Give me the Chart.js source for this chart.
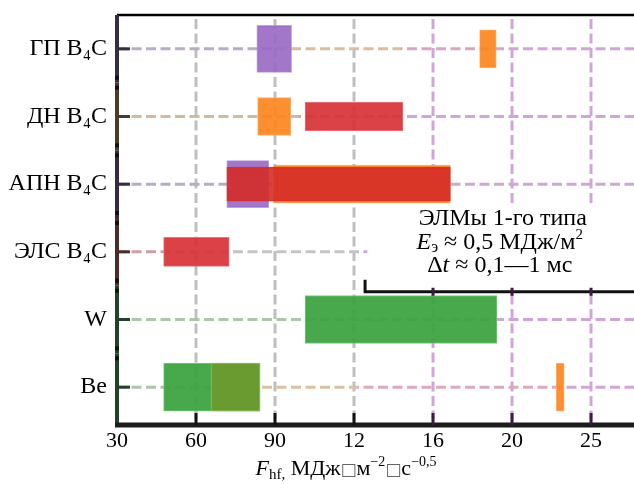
<!DOCTYPE html>
<html><head><meta charset="utf-8">
<script src="https://cdn.jsdelivr.net/npm/chart.js@4.4.0/dist/chart.umd.min.js"></script>
<style>html,body{margin:0;padding:0;background:#fff;}#wrap{width:634px;height:484px;}</style>
</head><body><div id="wrap"><canvas id="c" width="634" height="484"></canvas></div>
<script>
// ---- data ----
const categories = ['ГП B₄C', 'ДН B₄C', 'АПН B₄C', 'ЭЛС B₄C', 'W', 'Be'];
const xTickLabels = ['30', '60', '90', '12', '16', '20', '25'];
// ranges in axis-position units (one unit = one labelled tick step)
const purpleRanges   = [[1.77, 2.21], null, [1.39, 1.92], null, null, null];
const orangeRanges   = [[4.59, 4.80], [1.78, 2.20], [1.98, 4.22], null, null, null];
const orangeBeRanges = [null, null, null, null, null, [5.56, 5.66]];
const redRanges      = [null, [2.38, 3.62], null, [0.59, 1.42], null, null];
const redApnRanges   = [null, null, [1.39, 4.22], null, null, null];
const greenRanges    = [null, null, null, null, [2.38, 4.81], [0.59, 1.81]];
const oliveRanges    = [null, null, null, null, null, [1.19, 1.81]];
const annotationText = ['ЭЛМы 1-го типа', 'E', 'э', ' ≈ 0,5 МДж/м', '2', 'Δ', 't', ' ≈ 0,1—1 мс'];
const axisTitleText = ['F', 'hf,', ' МДж', '□', 'м', '−2', '□', 'с', '−0,5'];

// ---- styles ----
const FONT = "'Liberation Serif','Times New Roman','DejaVu Serif',serif";
const fnt = (s, it) => (it ? 'italic ' : '') + s + 'px ' + FONT;
const vGridColors = [null, '#bfbfbf', '#bfbfbf', '#bfbfbf', '#d0a6d6', '#d0a6d6', '#d0a6d6'];
const rowGridStops = [
  [[0, '#b9acc8'], [2.0, '#d9bd9f'], [3.6, '#d6a7c0'], [4.7, '#d0a6d6']],
  [[0, '#d3b99e'], [2.3, '#c9a8b2'], [3.6, '#d0a6d6']],
  [[0, '#b8abc6'], [2.4, '#d0a6d6']],
  [[0, '#c9a3a3'], [1.0, '#c4c4c4'], [3.1, '#d0a6d6']],
  [[0, '#aec6ae'], [3.6, '#d0a6d6']],
  [[0, '#abc5a9'], [1.5, '#dcc0a4'], [3.05, '#deaab8'], [5.6, '#d0a6d6']]
];
const leftAxisColors = ['#352d40', '#4e3a2a', '#352c44', '#4d2a2c', '#24402a', '#24402a'];

function drawRuns(ctx, runs, cx, baseline) {
  let w = 0;
  runs.forEach(r => { ctx.font = r.font; r.w = ctx.measureText(r.t).width; w += r.w; });
  let xx = cx - w / 2;
  ctx.textBaseline = 'alphabetic'; ctx.textAlign = 'left';
  runs.forEach(r => { ctx.font = r.font; ctx.fillStyle = r.color || '#000'; ctx.fillText(r.t, xx, baseline + (r.dy || 0)); xx += r.w; });
}

function boxGeom(chart) {
  const { chartArea: a, scales: { x, y } } = chart;
  const band = y.getPixelForValue(1) - y.getPixelForValue(0);
  return {
    left: x.getPixelForValue(3.17), bracketX: x.getPixelForValue(3.14),
    top: y.getPixelForValue(2) + 0.30 * band,
    bottom: y.getPixelForValue(4) - 0.41 * band,
    right: a.right
  };
}

const decor = {
  id: 'decor',
  beforeDatasetsDraw(chart) {
    const { ctx, chartArea: a, scales: { x, y } } = chart;
    const frac = u => Math.min(1, Math.max(0, (x.getPixelForValue(u) - a.left) / (a.right - a.left)));
    ctx.save();
    ctx.beginPath(); ctx.rect(a.left, a.top, a.right - a.left, a.bottom - a.top); ctx.clip();
    ctx.lineWidth = 3; ctx.setLineDash([10, 4.5]);
    for (let i = 1; i < xTickLabels.length; i++) {
      const px = x.getPixelForValue(i);
      ctx.strokeStyle = vGridColors[i];
      ctx.beginPath(); ctx.moveTo(px, a.top + 4); ctx.lineTo(px, a.bottom); ctx.stroke();
    }
    categories.forEach((c, i) => {
      const py = y.getPixelForValue(i);
      const g = ctx.createLinearGradient(a.left, 0, a.right, 0);
      const st = rowGridStops[i];
      st.forEach((s, k) => {
        const f0 = frac(s[0]);
        const f1 = k + 1 < st.length ? frac(st[k + 1][0]) : 1;
        g.addColorStop(f0, s[1]);
        g.addColorStop(Math.max(f0, f1 - 0.001), s[1]);
      });
      ctx.strokeStyle = g;
      ctx.beginPath(); ctx.moveTo(a.left, py); ctx.lineTo(a.right, py); ctx.stroke();
    });
    ctx.restore();
    // annotation box
    const b = boxGeom(chart);
    ctx.save();
    ctx.fillStyle = '#fff';
    ctx.fillRect(b.left, b.top, b.right - b.left, b.bottom - b.top);
    const cx = (b.left + b.right) / 2;
    drawRuns(ctx, [{ t: annotationText[0], font: fnt(24) }], cx + 2, b.top + 21);
    drawRuns(ctx, [
      { t: annotationText[1], font: fnt(24, true) },
      { t: annotationText[2], font: fnt(16), dy: 3 },
      { t: annotationText[3], font: fnt(24) },
      { t: annotationText[4], font: fnt(15), dy: -10 }
    ], cx - 1, b.top + 45);
    drawRuns(ctx, [
      { t: annotationText[5], font: fnt(24) },
      { t: annotationText[6], font: fnt(24, true) },
      { t: annotationText[7], font: fnt(24) }
    ], cx - 1, b.top + 68);
    ctx.restore();
  },
  afterDatasetsDraw(chart) {
    const { ctx, chartArea: a, scales: { x, y } } = chart;
    const band = y.getPixelForValue(1) - y.getPixelForValue(0);
    ctx.save();
    ctx.setLineDash([]);
    // top border
    ctx.strokeStyle = '#000'; ctx.lineWidth = 2.5;
    ctx.beginPath(); ctx.moveTo(a.left, a.top); ctx.lineTo(a.right, a.top); ctx.stroke();
    // left axis segments
    categories.forEach((c, i) => {
      const py = y.getPixelForValue(i);
      ctx.strokeStyle = leftAxisColors[i]; ctx.lineWidth = 4;
      ctx.beginPath(); ctx.moveTo(a.left, Math.max(a.top - 1, py - band / 2)); ctx.lineTo(a.left, py + band / 2 + (i === categories.length - 1 ? 6 : 0)); ctx.stroke();
      ctx.lineWidth = 3;
      ctx.beginPath(); ctx.moveTo(a.left, py); ctx.lineTo(a.left + 13, py); ctx.stroke();
      if (i > 0) {
        const by = py - band / 2;
        ctx.fillStyle = '#111';
        ctx.fillRect(a.left - 2, by - 7, 4, 4);
        ctx.fillRect(a.left - 2, by + 3, 4, 4);
      }
    });
    // bottom axis
    ctx.strokeStyle = '#1c1c1c'; ctx.lineWidth = 5;
    ctx.beginPath(); ctx.moveTo(a.left - 2, a.bottom + 4); ctx.lineTo(a.right, a.bottom + 4); ctx.stroke();
    ctx.lineWidth = 3;
    for (let i = 1; i < xTickLabels.length; i++) {
      const px = x.getPixelForValue(i);
      ctx.strokeStyle = i >= 4 ? '#3a1c3c' : '#111';
      ctx.beginPath(); ctx.moveTo(px, a.bottom - 8); ctx.lineTo(px, a.bottom + 4); ctx.stroke();
    }
    // bracket under annotation
    const b = boxGeom(chart);
    ctx.strokeStyle = '#111'; ctx.lineWidth = 3;
    ctx.beginPath(); ctx.moveTo(b.bracketX, b.bottom - 12); ctx.lineTo(b.bracketX, b.bottom); ctx.lineTo(b.right, b.bottom); ctx.stroke();
    ctx.fillStyle = '#3a1c3c';
    for (let i = 4; i < xTickLabels.length; i++) {
      const px = x.getPixelForValue(i);
      ctx.fillRect(px - 1.5, b.bottom - 4, 3, 8);
    }
    ctx.restore();
  },
  afterDraw(chart) {
    const { ctx, chartArea: a } = chart;
    ctx.save();
    const t = axisTitleText;
    drawRuns(ctx, [
      { t: t[0], font: fnt(22, true) },
      { t: t[1], font: fnt(15), dy: 4 },
      { t: t[2], font: fnt(22) },
      { t: t[3], font: "17px 'DejaVu Sans'", color: '#666' },
      { t: t[4], font: fnt(22) },
      { t: t[5], font: fnt(14), dy: -9 },
      { t: t[6], font: "17px 'DejaVu Sans'", color: '#666' },
      { t: t[7], font: fnt(22) },
      { t: t[8], font: fnt(14), dy: -9 }
    ], 346, a.bottom + 54);
    ctx.restore();
  }
};

function ds(label, data, bg, border, thick, order) {
  return { label, data, backgroundColor: bg, borderColor: border, borderWidth: 1, borderSkipped: false,
           barThickness: thick, grouped: false, order };
}

new Chart(document.getElementById('c'), {
  type: 'bar',
  data: {
    labels: categories,
    datasets: [
      ds('purple', purpleRanges, 'rgba(152,104,196,0.9)', 'rgba(185,150,220,0.9)', 47, 6),
      ds('orange', orangeRanges, 'rgba(253,133,30,0.92)', 'rgba(253,170,100,0.9)', 38, 5),
      ds('orangeBe', orangeBeRanges, 'rgba(253,133,30,0.92)', 'rgba(253,170,100,0.9)', 48, 5),
      ds('red', redRanges, 'rgba(215,50,55,0.92)', 'rgba(230,110,110,0.9)', 29, 4),
      ds('redApn', redApnRanges, 'rgba(213,44,40,0.9)', 'rgba(213,44,40,0.9)', 34, 4),
      ds('green', greenRanges, 'rgba(58,163,62,0.93)', 'rgba(120,195,120,0.9)', 48, 3),
      ds('olive', oliveRanges, 'rgba(108,154,48,0.92)', 'rgba(150,190,100,0.9)', 48, 2)
    ]
  },
  options: {
    indexAxis: 'y', responsive: false, animation: false,
    layout: { padding: { top: 15, right: 0, left: 0, bottom: 0 } },
    plugins: { legend: { display: false }, tooltip: { enabled: false }, title: { display: false } },
    scales: {
      x: {
        type: 'linear', min: 0, max: 6.544, position: 'bottom',
        afterFit: s => { s.height = 63; s.paddingLeft = 0; s.paddingRight = 0; },
        grid: { display: false, drawTicks: false }, border: { display: false },
        ticks: { stepSize: 1, includeBounds: false, autoSkip: false, maxRotation: 0, padding: 7, color: '#000',
                 font: { family: FONT, size: 22 }, callback: v => xTickLabels[Math.round(v)] ?? '' }
      },
      y: {
        type: 'category', afterFit: s => { s.width = 117; s.paddingTop = 0; s.paddingBottom = 0; },
        grid: { display: false, drawTicks: false }, border: { display: false },
        ticks: { padding: 10, color: '#000', font: { family: FONT, size: 24 } }
      }
    }
  },
  plugins: [decor]
});
</script></body></html>
